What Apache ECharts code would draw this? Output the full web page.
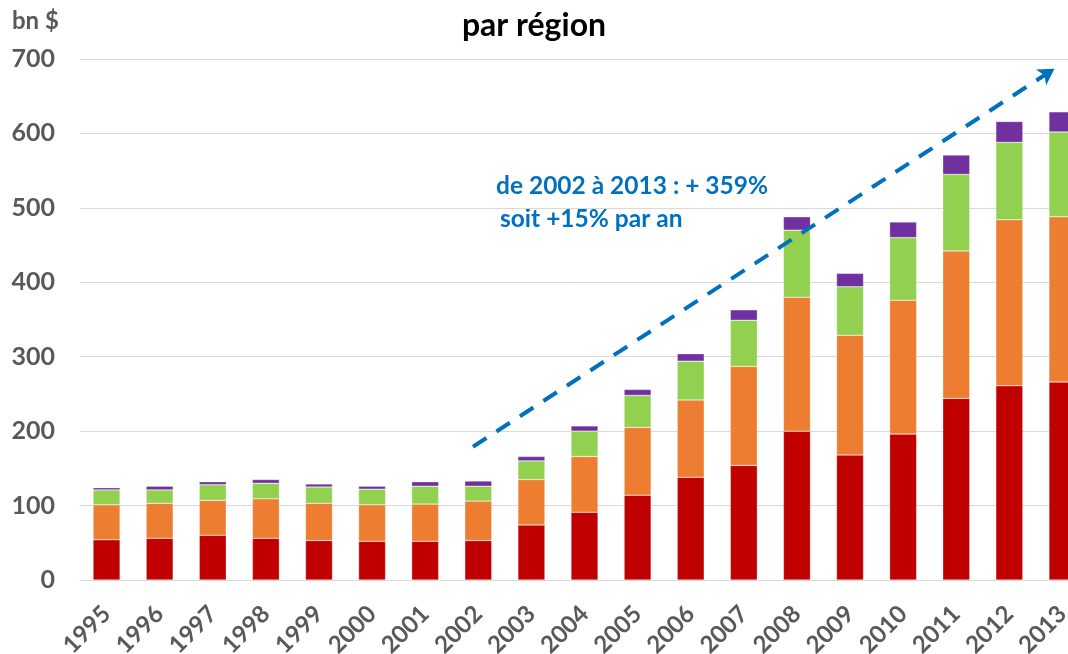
<!DOCTYPE html>
<html>
<head>
<meta charset="utf-8">
<script src="https://cdn.jsdelivr.net/npm/echarts@6/dist/echarts.min.js"></script>
<style>
  html, body { margin: 0; padding: 0; background: #fff; }
  #chart { width: 1068px; height: 654px; }
</style>
</head>
<body>
<div id="chart"></div>
<script>
// data (bn $)
const years = ['1995', '1996', '1997', '1998', '1999', '2000', '2001', '2002', '2003', '2004',
  '2005', '2006', '2007', '2008', '2009', '2010', '2011', '2012', '2013'];
const regionRed = [54, 56, 60, 56, 53, 52, 52, 53, 74, 91, 114, 138, 154, 200, 168, 196, 244, 261, 266];
const regionOrange = [47, 47, 47, 53, 50, 49, 50, 53, 61, 75, 91, 104, 133, 180, 161, 180, 198, 223, 222];
const regionGreen = [20, 18, 21, 21, 22, 21, 24, 20, 25, 34, 43, 52, 62, 90, 65, 84, 103, 104, 114];
const regionPurple = [3, 5, 4, 5, 4, 4, 6, 7, 6, 7, 8, 10, 14, 18, 18, 21, 26, 28, 27];
const yTicks = [0, 100, 200, 300, 400, 500, 600, 700];
// trend arrow, in (year, bn $)
const trendArrow = [[2001.9, 179], [2012.85, 687]];

const labelGray = '#595959';
const font = 'Lato, "Open Sans", sans-serif';

const chart = echarts.init(document.getElementById('chart'));

function stackBar(name, data, color) {
  return {
    name: name,
    type: 'bar',
    stack: 'total',
    barWidth: 27,
    data: data,
    itemStyle: { color: color, borderColor: 'rgba(255,255,255,0.6)', borderWidth: 0.5 }
  };
}

chart.setOption({
  animation: false,
  title: {
    text: 'par région',
    left: 'center',
    top: 5,
    textStyle: { fontFamily: font, fontWeight: 'bold', fontSize: 32, color: '#000' }
  },
  grid: { left: 80, right: -21, top: 59, bottom: 74, containLabel: false, outerBoundsMode: 'none' },
  xAxis: [
    {
      type: 'category',
      data: years,
      axisTick: { show: false },
      axisLine: { lineStyle: { color: '#D9D9D9', width: 1 } },
      axisLabel: {
        interval: 0,
        rotate: 45,
        margin: 30,
        color: labelGray,
        fontFamily: font,
        fontWeight: 'bold',
        fontSize: 24
      }
    },
    {
      type: 'value',
      min: 1994.5,
      max: 2013.5,
      show: false
    }
  ],
  yAxis: {
    type: 'value',
    min: yTicks[0],
    max: yTicks[yTicks.length - 1],
    interval: 100,
    axisLine: { show: false },
    axisTick: { show: false },
    splitLine: { lineStyle: { color: '#D9D9D9', width: 1 } },
    axisLabel: {
      margin: 25,
      color: labelGray,
      fontFamily: font,
      fontWeight: 'bold',
      fontSize: 25
    }
  },
  graphic: [
    {
      type: 'text',
      left: 12,
      top: 9,
      style: { text: 'bn $', fill: labelGray, font: 'bold 24px ' + font }
    },
    {
      type: 'text',
      left: 496,
      top: 174,
      style: { text: 'de 2002 à 2013 : + 359%', fill: '#0070C0', font: 'bold 24.5px ' + font }
    },
    {
      type: 'text',
      left: 500,
      top: 207,
      style: { text: 'soit +15% par an', fill: '#0070C0', font: 'bold 24.5px ' + font }
    }
  ],
  series: [
    stackBar('rouge', regionRed, '#C00000'),
    stackBar('orange', regionOrange, '#ED7D31'),
    stackBar('vert', regionGreen, '#92D050'),
    stackBar('violet', regionPurple, '#7030A0'),
    {
      name: 'tendance',
      type: 'line',
      xAxisIndex: 1,
      data: [],
      silent: true,
      markLine: {
        silent: true,
        symbol: ['none', 'arrow'],
        symbolSize: [14, 16],
        label: { show: false },
        lineStyle: { color: '#0070C0', width: 4, type: [16, 12] },
        data: [[{ coord: trendArrow[0] }, { coord: trendArrow[1] }]]
      }
    }
  ]
});
</script>
</body>
</html>
